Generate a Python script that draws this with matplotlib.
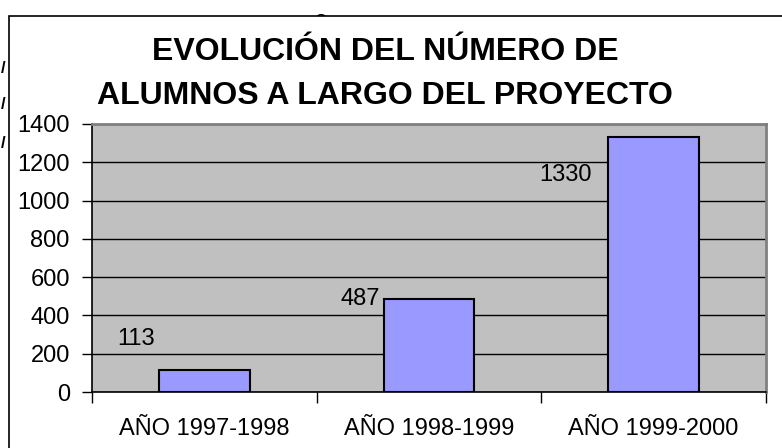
import matplotlib
matplotlib.use('Agg')
import matplotlib.pyplot as plt
from matplotlib.patches import Rectangle

# datos
cursos = ['AÑO 1997-1998', 'AÑO 1998-1999', 'AÑO 1999-2000']
alumnos = [113, 487, 1330]
titulo = 'EVOLUCIÓN DEL NÚMERO DE\nALUMNOS A LARGO DEL PROYECTO'
yticks = [0, 200, 400, 600, 800, 1000, 1200, 1400]

plt.rcParams['font.family'] = ['Liberation Sans', 'DejaVu Sans']

W, H = 782, 448
fig = plt.figure(figsize=(W / 100, H / 100), dpi=100)

# restos de texto detras del grafico
for yb in [73, 109, 148]:
    fig.text(1 / W, 1 - yb / H, '/', fontsize=12, fontweight='bold',
             va='baseline', ha='left', zorder=-3)
fig.text(320 / W, 1 - 26 / H, 'o', fontsize=16, ha='center', va='baseline', zorder=-3)

# marco del grafico
marco = Rectangle((9 / W, -0.1), 1.1, 1 - 16 / H + 0.1, transform=fig.transFigure,
                  facecolor='white', edgecolor='black', lw=1.2, zorder=-2)
fig.patches.append(marco)

ax = fig.add_axes([92 / W, (H - 392) / H, 674 / W, (392 - 124) / H])
ax.set_facecolor('#C0C0C0')

x = range(len(cursos))
ax.bar(x, alumnos, width=0.405, color='#9999FF', edgecolor='black', linewidth=1.5, zorder=3)

ax.set_ylim(0, 1400)
ax.set_xlim(-0.5, len(cursos) - 0.5)
ax.set_yticks(yticks)
ax.set_yticklabels([str(v) for v in yticks])
ax.yaxis.grid(True, color='black', lw=1)
ax.set_axisbelow(True)

ax.set_xticks([i - 0.5 for i in range(len(cursos) + 1)])
ax.set_xticklabels([])
ax.set_xticks(list(x), minor=True)
ax.set_xticklabels(cursos, minor=True)
ax.tick_params(axis='x', which='major', length=8, width=1, direction='out')
ax.tick_params(axis='x', which='minor', length=0, pad=19, labelsize=17)
ax.tick_params(axis='y', length=7, width=1, pad=9, labelsize=17)

for s in ['top', 'right']:
    ax.spines[s].set_color('#808080')
    ax.spines[s].set_linewidth(2)
for s in ['left', 'bottom']:
    ax.spines[s].set_color('black')
    ax.spines[s].set_linewidth(1.2)

# etiquetas de valores
desplaz = [(-2, 31), (-2, 0), (-15, -38)]
for i, v in enumerate(alumnos):
    ax.annotate(str(v), xy=(i - 0.21, v), xytext=desplaz[i],
                textcoords='offset pixels', ha='right', va='center', fontsize=17)

fig.text(385 / W, 1 - 74 / H, titulo, ha='center', va='center', fontsize=23,
         fontweight='bold', linespacing=1.62)

fig.savefig('out.png', dpi=100)
